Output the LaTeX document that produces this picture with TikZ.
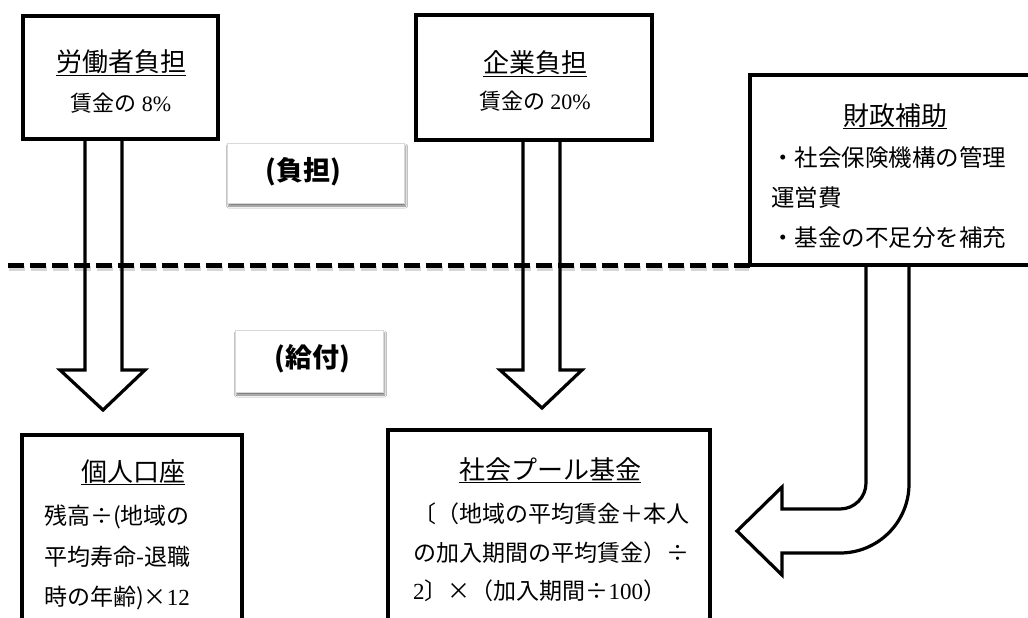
\documentclass[tikz,border=0pt]{standalone}
\usepackage{fontspec}
\setmainfont{Liberation Serif}
\newfontfamily\cjk{Noto Sans CJK JP}
\usetikzlibrary{shadows.blur}
\newcommand\lat[1]{{\rmfamily #1}}
\begin{document}
\begin{tikzpicture}[x=1pt,y=-1pt,
  box/.style={draw=black, line width=4pt, inner sep=0pt, outer sep=0pt},
  barrow/.style={draw=black, line width=3.2pt, line join=miter, miter limit=10},
  ttl/.style={font=\cjk\fontsize{26}{30}\selectfont, inner sep=0pt, anchor=base},
  sub/.style={font=\cjk\fontsize{22}{26}\selectfont, inner sep=0pt, anchor=base},
  ln/.style={font=\cjk\fontsize{23}{27}\selectfont, inner sep=0pt, anchor=base west},
  lnb/.style={font=\cjk\fontsize{23.5}{27}\selectfont, inner sep=0pt, anchor=base west},
  lab/.style={font=\cjk\bfseries\fontsize{27}{30}\selectfont, inner sep=0pt, anchor=base},
  labbox/.style={fill=white, draw=gray!30, line width=0.8pt, inner sep=0pt,
    blur shadow={shadow xshift=1.5pt, shadow yshift=-3pt, shadow opacity=55, shadow blur radius=2pt}},
  dashline/.style={line width=5pt, dash pattern=on 16pt off 6pt}
]
\useasboundingbox (0,0) rectangle (1028,618);
\fill[white] (0,0) rectangle (1028,618);
\clip (0,0) rectangle (1028,618);

% boxes
\node[box, minimum width=195pt, minimum height=123pt] (b1) at (120.5,77.5) {};
\node[box, minimum width=236pt, minimum height=125pt] (b2) at (534,77.5) {};
\node[box, minimum width=295pt, minimum height=190pt] (b3) at (897.5,170) {};
\node[box, minimum width=220pt, minimum height=225pt] (b4) at (132,547.5) {};
\node[box, minimum width=322pt, minimum height=230pt] (b5) at (549,545) {};

% dashed boundary
\coordinate (dstart) at (8,265);
\draw[dashline, gray!45, opacity=0.7] (9,268.5) -- (749,268.5);
\draw[dashline] (dstart) -- (b3.south west);

% block arrows
\draw[barrow] (85,139) -- (85,370) -- (60,370) -- (103,410) -- (145,370) -- (122,370) -- (122,139);
\draw[barrow] (523,140) -- (523,370) -- (500,370) -- (542,408) -- (582,370) -- (560,370) -- (560,140);
\draw[barrow] (866,265) -- (866,483) arc[start angle=0,end angle=90,radius=26] -- (782,509)
  -- (782,487) -- (737,531) -- (782,575) -- (782,553) -- (840,553)
  arc[start angle=90,end angle=0,radius=69] -- (909,265);

% label boxes
\node[labbox, minimum width=177pt, minimum height=60pt] (l1box) at (315.5,173) {};
\node[lab] (l1) at (303,180) {(負担)};
\node[labbox, minimum width=148pt, minimum height=62pt] (l2box) at (309,361) {};
\node[lab] (l2) at (312,367) {(給付)};

% texts
\node[ttl] (t1) at (121,72) {\underline{労働者負担}};
\node[sub] (s1) at (121,111) {賃金の \lat{8\%}};
\node[ttl] (t2) at (535,73) {\underline{企業負担}};
\node[sub] (s2) at (535,110) {賃金の \lat{20\%}};

\node[ttl] (t3) at (895,125) {\underline{財政補助}};
\node[lnb] (s3a) at (771,166) {・社会保険機構の管理};
\node[lnb] (s3b) at (771,206) {運営費};
\node[lnb] (s3c) at (771,246) {・基金の不足分を補充};

\node[ttl] (t4) at (133,481) {\underline{個人口座}};
\node[ln] (s4a) at (44,524) {残高÷(地域の};
\node[ln] (s4b) at (44,565) {平均寿命-退職};
\node[ln] (s4c) at (44,605) {時の年齢)×\lat{12}};

\node[ttl] (t5) at (550,479) {\underline{社会プール基金}};
\node[ln] (s5a) at (413,522) {〔（地域の平均賃金＋本人};
\node[ln] (s5b) at (413,561) {の加入期間の平均賃金）÷};
\node[ln] (s5c) at (413,599) {\lat{2}〕×（加入期間÷\lat{100}）};
\end{tikzpicture}
\end{document}
